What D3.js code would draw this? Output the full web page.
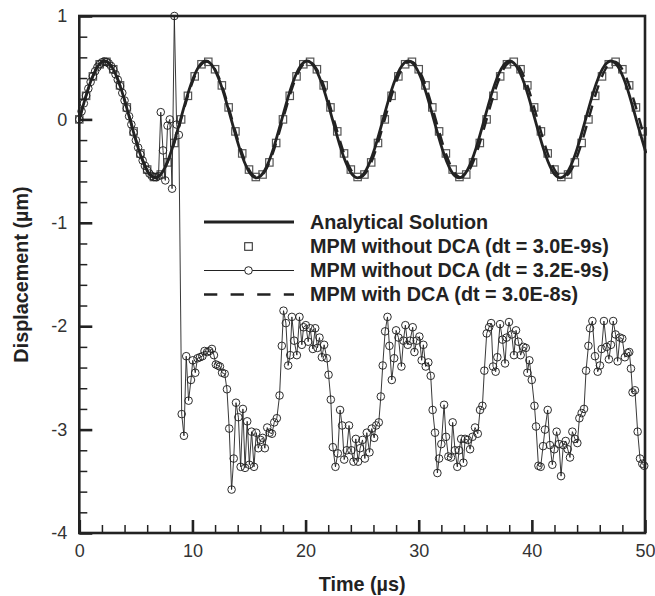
<!DOCTYPE html>
<html>
<head>
<meta charset="utf-8">
<script src="https://cdn.jsdelivr.net/npm/d3@7"></script>
<style>
  html, body { margin: 0; padding: 0; background: #fff; }
  svg { display: block; font-family: "Liberation Sans", Arial, sans-serif; }
</style>
</head>
<body>
<svg id="chart" width="655" height="596"></svg>
<script>
// ---------------- data ----------------
const xTickValues = [0, 10, 20, 30, 40, 50];
const xTickLabels = ["0", "10", "20", "30", "40", "50"];
const yTickValues = [-4, -3, -2, -1, 0, 1];
const yTickLabels = ["-4", "-3", "-2", "-1", "0", "1"];

const legendLabels = [
  "Analytical Solution",
  "MPM without DCA (dt = 3.0E-9s)",
  "MPM without DCA (dt = 3.2E-9s)",
  "MPM with DCA (dt = 3.0E-8s)"
];

// Analytical solution
const anaX = [0,0.746,1.492,2.238,2.983,3.729,4.475,5.221,5.967,6.713,7.458,8.204,
  8.95,9.696,10.442,11.188,11.933,12.679,13.425,14.171,14.917,15.663,16.408,17.154,
  17.9,18.646,19.392,20.138,20.883,21.629,22.375,23.121,23.867,24.613,25.358,26.104,
  26.85,27.596,28.342,29.088,29.833,30.579,31.325,32.071,32.817,33.563,34.308,35.054,
  35.8,36.546,37.292,38.038,38.783,39.529,40.275,41.021,41.767,42.513,43.258,44.004,
  44.75,45.496,46.242,46.988,47.733,48.479,49.225,49.971,50];
const anaY = [0,0.283,0.489,0.565,0.489,0.283,0,-0.283,-0.489,-0.565,-0.489,-0.283,
  0,0.283,0.489,0.565,0.489,0.283,0,-0.283,-0.489,-0.565,-0.489,-0.283,
  0,0.283,0.489,0.565,0.489,0.283,0,-0.283,-0.489,-0.565,-0.489,-0.283,
  0,0.283,0.489,0.565,0.489,0.283,0,-0.283,-0.489,-0.565,-0.489,-0.283,
  0,0.283,0.489,0.565,0.489,0.283,0,-0.283,-0.489,-0.565,-0.489,-0.283,
  0,0.283,0.489,0.565,0.489,0.283,0,-0.283,-0.292];

// MPM with DCA (dashed)
const dcaX = [0,0.75,1.5,2.25,3,3.75,4.5,5.25,6,6.75,7.5,8.25,
  9,9.75,10.5,11.25,12,12.75,13.5,14.25,15,15.75,16.5,17.25,
  18,18.75,19.5,20.25,21,21.75,22.5,23.25,24,24.75,25.5,26.25,
  27,27.75,28.5,29.25,30,30.75,31.5,32.25,33,33.75,34.5,35.25,
  36,36.75,37.5,38.25,39,39.75,40.5,41.25,42,42.75,43.5,44.25,
  45,45.75,46.5,47.25,48,48.75,49.5,50];
const dcaY = [0,0.28,0.485,0.56,0.485,0.28,0,-0.28,-0.485,-0.56,-0.485,-0.28,
  0,0.28,0.485,0.56,0.485,0.28,0,-0.28,-0.485,-0.56,-0.485,-0.28,
  0,0.28,0.485,0.56,0.485,0.28,0,-0.28,-0.485,-0.56,-0.485,-0.28,
  0,0.28,0.485,0.56,0.485,0.28,0,-0.28,-0.485,-0.56,-0.485,-0.28,
  0,0.28,0.485,0.56,0.485,0.28,0,-0.28,-0.485,-0.56,-0.485,-0.28,
  0,0.28,0.485,0.56,0.485,0.28,0,-0.192];

// MPM without DCA, dt = 3.0E-9s (squares)
const sqX = [0,0.6,1.2,1.8,2.4,3,3.6,4.2,4.8,5.4,6,6.6,7.2,7.8,8.4,
  9,9.6,10.2,10.8,11.4,12,12.6,13.2,13.8,14.4,15,15.6,16.2,16.8,17.4,
  18,18.6,19.2,19.8,20.4,21,21.6,22.2,22.8,23.4,24,24.6,25.2,25.8,26.4,
  27,27.6,28.2,28.8,29.4,30,30.6,31.2,31.8,32.4,33,33.6,34.2,34.8,35.4,
  36,36.6,37.2,37.8,38.4,39,39.6,40.2,40.8,41.4,42,42.6,43.2,43.8,44.4,
  45,45.6,46.2,46.8,47.4,48,48.6,49.2,49.8];
const sqY = [0,0.228,0.416,0.533,0.557,0.485,0.329,0.116,-0.116,-0.329,-0.485,-0.557,-0.533,-0.416,-0.228,
  0,0.228,0.416,0.533,0.557,0.485,0.329,0.116,-0.116,-0.329,-0.485,-0.557,-0.533,-0.416,-0.228,
  0,0.228,0.416,0.533,0.557,0.485,0.329,0.116,-0.116,-0.329,-0.485,-0.557,-0.533,-0.416,-0.228,
  0,0.228,0.416,0.533,0.557,0.485,0.329,0.116,-0.116,-0.329,-0.485,-0.557,-0.533,-0.416,-0.228,
  0,0.228,0.416,0.533,0.557,0.485,0.329,0.116,-0.116,-0.329,-0.485,-0.557,-0.533,-0.416,-0.228,
  0,0.228,0.416,0.533,0.557,0.485,0.329,0.116,-0.116];

// MPM without DCA, dt = 3.2E-9s (circles)
const cirX = [0,0.2,0.4,0.6,0.8,1,1.2,1.4,1.6,1.8,2,2.2,2.4,2.6,2.8,3,3.2,3.4,3.6,3.8,
  4,4.2,4.4,4.6,4.8,5,5.2,5.4,5.6,5.8,6,6.2,6.4,6.6,6.8,7,
  7.2,7.4,7.6,7.8,8,8.2,8.4,8.6,8.8,
  9.05,9.25,9.45,9.66,9.87,10.03,10.25,10.45,10.67,10.88,11.07,11.3,11.5,11.72,11.9,
  12.07,12.25,12.43,12.62,12.85,13.05,13.25,13.46,13.65,13.85,14.06,14.26,14.46,14.65,14.84,
  15.03,15.23,15.44,15.64,15.82,16.03,16.21,16.4,16.61,16.82,17.03,17.23,17.46,17.7,17.9,
  18.05,18.26,18.46,18.64,18.79,18.99,19.23,19.46,19.67,19.82,20.02,20.23,20.41,20.64,20.85,
  21.05,21.23,21.44,21.64,21.88,22.03,22.23,22.41,22.64,22.85,23.05,23.23,23.41,23.64,23.84,
  24.05,24.23,24.44,24.64,24.82,25.03,25.24,25.41,25.65,25.85,26.06,26.24,26.47,26.65,26.82,
  27.03,27.24,27.41,27.62,27.83,28,28.21,28.47,28.65,28.82,29.03,29.23,29.47,29.62,29.82,
  30.06,30.26,30.41,30.62,30.85,31.06,31.23,31.44,31.65,31.8,32,32.24,32.41,32.62,32.85,
  33,33.21,33.41,33.57,33.75,33.95,34.1,34.33,34.54,34.75,34.98,35.22,35.42,35.63,35.8,
  36.01,36.22,36.4,36.57,36.8,36.95,37.19,37.4,37.63,37.77,37.98,38.22,38.42,38.6,38.81,
  39.01,39.25,39.46,39.6,39.78,39.99,40.23,40.37,40.58,40.78,40.99,41.16,41.4,41.6,41.81,
  41.99,42.19,42.4,42.58,42.78,42.99,43.17,43.37,43.58,43.81,44.02,44.2,44.4,44.61,44.79,
  45,45.14,45.35,45.58,45.82,46.02,46.17,46.37,46.61,46.81,46.99,47.19,47.4,47.58,47.78,
  47.99,48.22,48.46,48.61,48.76,48.9,49.11,49.35,49.56,49.76,49.93];
const cirY = [0,0.078,0.155,0.229,0.298,0.362,0.418,0.466,0.505,0.534,0.552,0.56,0.556,0.542,0.517,0.482,0.437,0.384,0.323,0.256,
  0.183,0.107,0.03,-0.049,-0.127,-0.202,-0.273,-0.339,-0.398,-0.449,-0.491,-0.524,-0.547,-0.558,-0.559,-0.549,
  0.07,-0.3,-0.59,-0.06,0,-0.67,1,-0.05,-0.15,
  -2.85,-3.06,-2.29,-2.72,-2.52,-2.33,-2.45,-2.31,-2.3,-2.29,-2.24,-2.25,-2.24,-2.22,-2.28,
  -2.37,-2.38,-2.39,-2.45,-2.46,-2.61,-2.99,-3.58,-3.28,-2.74,-2.88,-3.36,-2.8,-3.37,-2.92,
  -3.34,-3.02,-3.36,-3.03,-3.18,-3.1,-3.08,-3.18,-2.98,-3.03,-3.04,-2.93,-2.89,-2.67,-2.19,
  -1.85,-1.97,-2.38,-2.28,-1.91,-2.14,-2.28,-1.91,-2.18,-2.01,-1.99,-2.15,-2.02,-2.22,-2.02,
  -2.21,-2.11,-2.3,-2.18,-2.31,-2.47,-2.71,-3.17,-3.36,-3.23,-2.81,-2.96,-3.29,-3.2,-2.96,
  -3.2,-3.31,-3.09,-3.31,-3.18,-3.1,-3.28,-3.03,-3.22,-2.99,-3.08,-2.96,-2.93,-2.68,-2.38,
  -2.05,-1.91,-2.19,-2.52,-2.31,-2.04,-2.11,-2.39,-2.14,-1.99,-2.18,-2.14,-2.01,-2.25,-2.14,
  -2.1,-2.33,-2.18,-2.39,-2.35,-2.48,-2.81,-3.03,-3.42,-3.28,-3.14,-2.76,-3.07,-3.26,-3.27,
  -2.93,-3.2,-3.36,-3.2,-3.09,-3.32,-3.09,-3.1,-3.19,-3.07,-2.98,-3.04,-2.81,-2.77,-2.43,
  -2.07,-2.01,-1.97,-2.39,-2.44,-2.3,-1.98,-2.13,-2.36,-2.11,-1.96,-2.08,-2.28,-2.04,-2.15,
  -2.28,-2.2,-2.21,-2.45,-2.33,-2.52,-2.77,-2.97,-3.35,-3.36,-3.16,-3,-2.81,-3.15,-3.34,
  -3.19,-3.02,-3.14,-3.45,-3.15,-3.11,-3.19,-3.27,-3.02,-3.09,-3.13,-2.89,-2.84,-2.8,-2.43,
  -2.19,-2.02,-1.95,-2.29,-2.44,-2.38,-2.22,-1.95,-2.2,-2.32,-2.18,-1.95,-2.08,-2.34,-2.11,
  -2.12,-2.3,-2.26,-2.25,-2.41,-2.64,-2.62,-3.02,-3.28,-3.33,-3.35];

// ---------------- drawing ----------------
const pair = (xs, ys) => d3.range(Math.min(xs.length, ys.length)).map(i => [xs[i], ys[i]]);
const anaData = pair(anaX, anaY);
const dcaData = pair(dcaX, dcaY);
const sqData = pair(sqX, sqY);
const cirData = pair(cirX, cirY);

const svg = d3.select("#chart");
const L = 79.3, R = 645, T = 16, B = 533;
const x = d3.scaleLinear().domain([0, 50]).range([L, R]);
const y = d3.scaleLinear().domain([-4, 1]).range([B, T]);

svg.append("rect").attr("width", 655).attr("height", 596).attr("fill", "#fff");

const ink = "#222";

// squares (under lines)
const sq = 7.4;
svg.append("g").selectAll("rect").data(sqData).join("rect")
  .attr("x", d => x(d[0]) - sq / 2).attr("y", d => y(d[1]) - sq / 2)
  .attr("width", sq).attr("height", sq)
  .attr("fill", "none").attr("stroke", "#555").attr("stroke-width", 1.2);

// dashed line
const lineGen = d3.line().x(d => x(d[0])).y(d => y(d[1])).curve(d3.curveNatural);
svg.append("path").datum(dcaData).attr("d", lineGen)
  .attr("fill", "none").attr("stroke", ink).attr("stroke-width", 2.4)
  .attr("stroke-dasharray", "12,9");

// analytical solid line
svg.append("path").datum(anaData).attr("d", lineGen)
  .attr("fill", "none").attr("stroke", ink).attr("stroke-width", 2.8);

// circle series
const thin = d3.line().x(d => x(d[0])).y(d => y(d[1]));
svg.append("path").datum(cirData).attr("d", thin)
  .attr("fill", "none").attr("stroke", "#222").attr("stroke-width", 0.9);
svg.append("g").selectAll("circle").data(cirData).join("circle")
  .attr("cx", d => x(d[0])).attr("cy", d => y(d[1])).attr("r", 3.8)
  .attr("fill", "none").attr("stroke", "#222").attr("stroke-width", 0.95);

// axes (ticks inward, left & bottom only)
const yMinor = d3.range(-4, 1.0001, 0.2).filter(v => Math.abs(v - Math.round(v)) > 1e-6);
const xMinor = d3.range(0, 50.001, 2).filter(v => v % 10 !== 0);

const gyMinor = svg.append("g").attr("transform", `translate(${L},0)`)
  .call(d3.axisLeft(y).tickValues(yMinor).tickSizeInner(-8).tickSizeOuter(0).tickFormat(""));
const gy = svg.append("g").attr("transform", `translate(${L},0)`)
  .call(d3.axisLeft(y).tickValues(yTickValues).tickSizeInner(-13).tickSizeOuter(0)
    .tickPadding(12).tickFormat((d, i) => yTickLabels[i]));
const gxMinor = svg.append("g").attr("transform", `translate(0,${B})`)
  .call(d3.axisBottom(x).tickValues(xMinor).tickSizeInner(-8).tickSizeOuter(0).tickFormat(""));
const gx = svg.append("g").attr("transform", `translate(0,${B})`)
  .call(d3.axisBottom(x).tickValues(xTickValues).tickSizeInner(-13).tickSizeOuter(0)
    .tickPadding(11).tickFormat((d, i) => xTickLabels[i]));

[gyMinor, gy, gxMinor, gx].forEach(g => g.select(".domain").remove());
[gyMinor, gxMinor].forEach(g => g.selectAll("line").attr("stroke", ink).attr("stroke-width", 1.5));
[gy, gx].forEach(g => {
  g.selectAll("line").attr("stroke", ink).attr("stroke-width", 2.6);
  g.selectAll("text").attr("font-size", "18px").attr("fill", "#333")
    .attr("font-family", "'Liberation Sans', Arial, sans-serif");
});

// frame
svg.append("rect").attr("x", L).attr("y", T).attr("width", R - L).attr("height", B - T)
  .attr("fill", "none").attr("stroke", ink).attr("stroke-width", 2.6);

// axis titles
svg.append("text").attr("x", (L + R) / 2).attr("y", 590.5).attr("text-anchor", "middle")
  .attr("font-size", "19.8px").attr("font-weight", "bold").attr("fill", ink)
  .text("Time (µs)");
svg.append("text").attr("transform", `translate(28,${(T + B) / 2}) rotate(-90)`)
  .attr("text-anchor", "middle")
  .attr("font-size", "19.8px").attr("font-weight", "bold").attr("fill", ink)
  .text("Displacement (µm)");

// legend
const lg = svg.append("g");
const rowY = [222, 246.5, 270.5, 294.5];
const lx0 = 204, lx1 = 294, lxm = 248.5;
lg.append("line").attr("x1", lx0).attr("x2", lx1).attr("y1", rowY[0]).attr("y2", rowY[0])
  .attr("stroke", ink).attr("stroke-width", 2.8);
lg.append("rect").attr("x", lxm - 3.8).attr("y", rowY[1] - 3.8).attr("width", 7.6).attr("height", 7.6)
  .attr("fill", "none").attr("stroke", "#333").attr("stroke-width", 1.1);
lg.append("line").attr("x1", lx0).attr("x2", lx1).attr("y1", rowY[2]).attr("y2", rowY[2])
  .attr("stroke", ink).attr("stroke-width", 1);
lg.append("circle").attr("cx", lxm).attr("cy", rowY[2]).attr("r", 3.8)
  .attr("fill", "#fff").attr("stroke", ink).attr("stroke-width", 1);
lg.append("line").attr("x1", lx0).attr("x2", lx1).attr("y1", rowY[3]).attr("y2", rowY[3])
  .attr("stroke", ink).attr("stroke-width", 2.6).attr("stroke-dasharray", "13.3,13.3");
lg.selectAll("text").data(legendLabels).join("text")
  .attr("x", 310).attr("y", (d, i) => rowY[i] + 6.8)
  .attr("font-size", "19.8px").attr("font-weight", "bold").attr("fill", ink)
  .text(d => d);
</script>
</body>
</html>
